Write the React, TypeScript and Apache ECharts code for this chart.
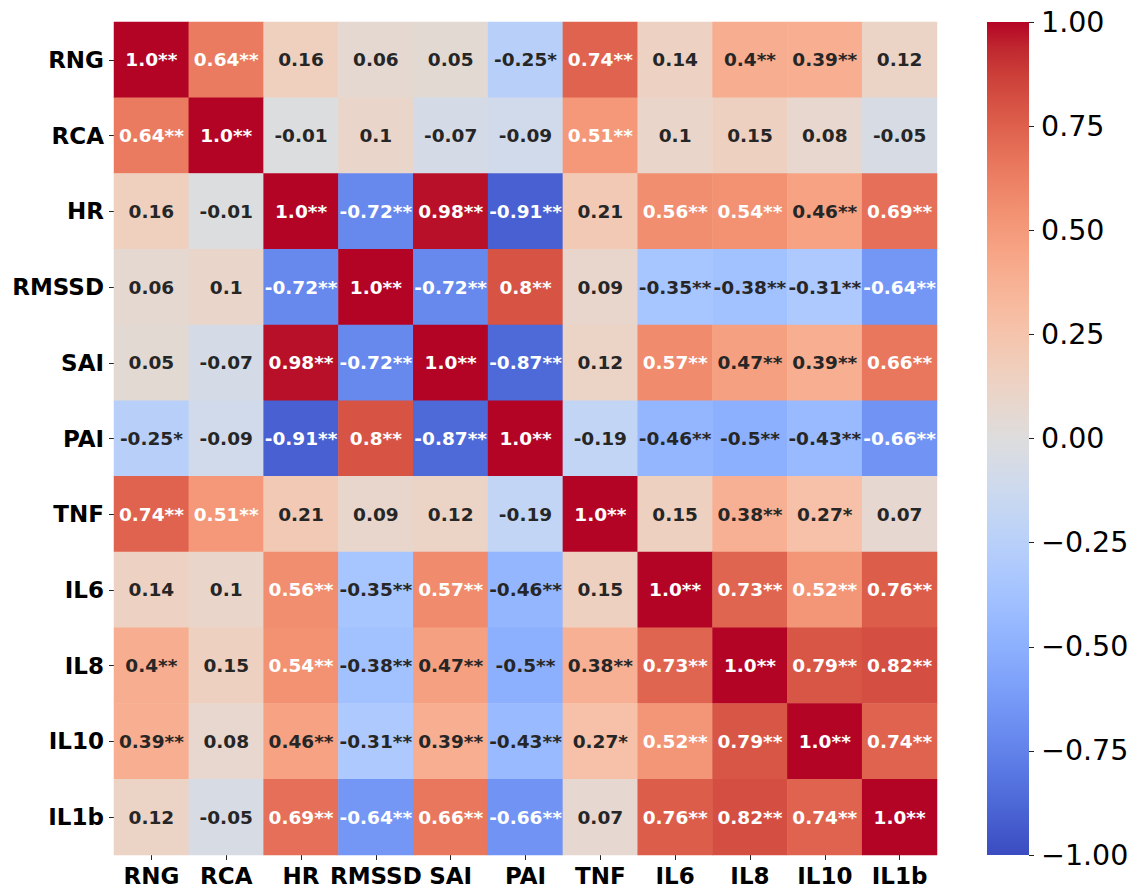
import React, { useEffect, useRef } from "react";
import * as echarts from "echarts";

const labels = ["RNG", "RCA", "HR", "RMSSD", "SAI", "PAI", "TNF", "IL6", "IL8", "IL10", "IL1b"];

const corr: number[][] = [
  [1.0, 0.64, 0.16, 0.06, 0.05, -0.25, 0.74, 0.14, 0.4, 0.39, 0.12],
  [0.64, 1.0, -0.01, 0.1, -0.07, -0.09, 0.51, 0.1, 0.15, 0.08, -0.05],
  [0.16, -0.01, 1.0, -0.72, 0.98, -0.91, 0.21, 0.56, 0.54, 0.46, 0.69],
  [0.06, 0.1, -0.72, 1.0, -0.72, 0.8, 0.09, -0.35, -0.38, -0.31, -0.64],
  [0.05, -0.07, 0.98, -0.72, 1.0, -0.87, 0.12, 0.57, 0.47, 0.39, 0.66],
  [-0.25, -0.09, -0.91, 0.8, -0.87, 1.0, -0.19, -0.46, -0.5, -0.43, -0.66],
  [0.74, 0.51, 0.21, 0.09, 0.12, -0.19, 1.0, 0.15, 0.38, 0.27, 0.07],
  [0.14, 0.1, 0.56, -0.35, 0.57, -0.46, 0.15, 1.0, 0.73, 0.52, 0.76],
  [0.4, 0.15, 0.54, -0.38, 0.47, -0.5, 0.38, 0.73, 1.0, 0.79, 0.82],
  [0.39, 0.08, 0.46, -0.31, 0.39, -0.43, 0.27, 0.52, 0.79, 1.0, 0.74],
  [0.12, -0.05, 0.69, -0.64, 0.66, -0.66, 0.07, 0.76, 0.82, 0.74, 1.0],
];

// number of significance stars per cell
const stars: number[][] = [
  [2, 2, 0, 0, 0, 1, 2, 0, 2, 2, 0],
  [2, 2, 0, 0, 0, 0, 2, 0, 0, 0, 0],
  [0, 0, 2, 2, 2, 2, 0, 2, 2, 2, 2],
  [0, 0, 2, 2, 2, 2, 0, 2, 2, 2, 2],
  [0, 0, 2, 2, 2, 2, 0, 2, 2, 2, 2],
  [1, 0, 2, 2, 2, 2, 0, 2, 2, 2, 2],
  [2, 2, 0, 0, 0, 0, 2, 0, 2, 1, 0],
  [0, 0, 2, 2, 2, 2, 0, 2, 2, 2, 2],
  [2, 0, 2, 2, 2, 2, 2, 2, 2, 2, 2],
  [2, 0, 2, 2, 2, 2, 1, 2, 2, 2, 2],
  [0, 0, 2, 2, 2, 2, 0, 2, 2, 2, 2],
];

// coolwarm colormap (Moreland), 33 stops from -1 to 1
const coolwarm: string[] = [
  "rgb(59,76,192)", "rgb(68,90,204)", "rgb(77,104,215)", "rgb(87,117,225)",
  "rgb(98,130,234)", "rgb(108,142,241)", "rgb(119,154,247)", "rgb(130,165,251)",
  "rgb(141,176,254)", "rgb(152,185,255)", "rgb(163,194,255)", "rgb(174,201,253)",
  "rgb(184,208,249)", "rgb(194,213,244)", "rgb(204,217,238)", "rgb(213,219,230)",
  "rgb(221,221,221)", "rgb(229,216,209)", "rgb(236,211,197)", "rgb(241,204,184)",
  "rgb(245,196,172)", "rgb(247,187,160)", "rgb(247,177,148)", "rgb(247,166,135)",
  "rgb(244,154,123)", "rgb(241,141,111)", "rgb(236,127,99)", "rgb(229,112,88)",
  "rgb(222,96,77)", "rgb(213,80,66)", "rgb(203,62,56)", "rgb(192,40,47)",
  "rgb(180,4,38)",
];

const colorbarTicks = { min: -1, max: 1, interval: 0.25 };

const FONT = "'DejaVu Sans', sans-serif";

const fmtVal = (v: number) => (Number.isInteger(v) ? v.toFixed(1) : String(v));

export default function App() {
  const ref = useRef<HTMLDivElement>(null);

  useEffect(() => {
    if (!ref.current) return;
    const chart = echarts.init(ref.current, undefined, { renderer: "svg" });

    const data: any[] = [];
    for (let r = 0; r < labels.length; r++) {
      for (let c = 0; c < labels.length; c++) {
        const v = corr[r][c];
        const light = v > 0.5 || v < -0.55;
        data.push({
          value: [c, r, v, stars[r][c]],
          label: { color: light ? "#ffffff" : "#262626" },
        });
      }
    }

    const gx = 114, gy = 22, gw = 823, gh = 833;
    const cbx = 987, cbw = 42;

    const gradStops = coolwarm
      .map((col, i) => ({ offset: 1 - i / (coolwarm.length - 1), color: col }))
      .reverse();

    chart.setOption({
      animation: false,
      backgroundColor: "#ffffff",
      grid: [
        { left: gx, top: gy, width: gw, height: gh, containLabel: false },
        { left: cbx, top: gy, width: cbw, height: gh, containLabel: false },
      ],
      xAxis: [
        {
          type: "category",
          gridIndex: 0,
          data: labels,
          position: "bottom",
          axisLine: { show: false },
          axisTick: { show: true, alignWithLabel: true, length: 5, lineStyle: { color: "#222", width: 1 } },
          axisLabel: {
            interval: 0,
            margin: 9,
            color: "#000",
            fontFamily: FONT,
            fontWeight: "bold",
            fontSize: 23,
          },
          splitLine: { show: false },
        },
        {
          type: "category",
          gridIndex: 1,
          data: [""],
          show: false,
        },
      ],
      yAxis: [
        {
          type: "category",
          gridIndex: 0,
          data: labels,
          inverse: true,
          axisLine: { show: false },
          axisTick: { show: true, alignWithLabel: true, length: 5, lineStyle: { color: "#222", width: 1 } },
          axisLabel: {
            interval: 0,
            margin: 10,
            color: "#000",
            fontFamily: FONT,
            fontWeight: "bold",
            fontSize: 23,
          },
          splitLine: { show: false },
        },
        {
          type: "value",
          gridIndex: 1,
          position: "right",
          min: colorbarTicks.min,
          max: colorbarTicks.max,
          interval: colorbarTicks.interval,
          axisLine: { show: false },
          axisTick: { show: true, length: 5, lineStyle: { color: "#222", width: 1 } },
          splitLine: { show: false },
          axisLabel: {
            margin: 12,
            color: "#000",
            fontFamily: FONT,
            fontSize: 28.5,
            formatter: (v: number) => (v < 0 ? "\u2212" : "") + Math.abs(v).toFixed(2),
          },
        },
      ],
      visualMap: {
        show: false,
        type: "continuous",
        min: -1,
        max: 1,
        dimension: 2,
        seriesIndex: 0,
        inRange: { color: coolwarm },
      },
      graphic: [
        {
          type: "rect",
          shape: { x: cbx, y: gy, width: cbw, height: gh },
          style: {
            fill: new echarts.graphic.LinearGradient(0, 0, 0, 1, gradStops),
          },
          z: 1,
        },
      ],
      series: [
        {
          type: "heatmap",
          xAxisIndex: 0,
          yAxisIndex: 0,
          data,
          itemStyle: { borderWidth: 0 },
          label: {
            show: true,
            fontFamily: FONT,
            fontWeight: "bold",
            fontSize: 18.5,
            formatter: (p: any) => fmtVal(p.value[2]) + "*".repeat(p.value[3]),
          },
          emphasis: { disabled: true },
        },
      ],
    });

    return () => chart.dispose();
  }, []);

  return (
    <div
      ref={ref}
      style={{ position: "fixed", left: 0, top: 0, width: 1135, height: 887, background: "#fff" }}
    />
  );
}
